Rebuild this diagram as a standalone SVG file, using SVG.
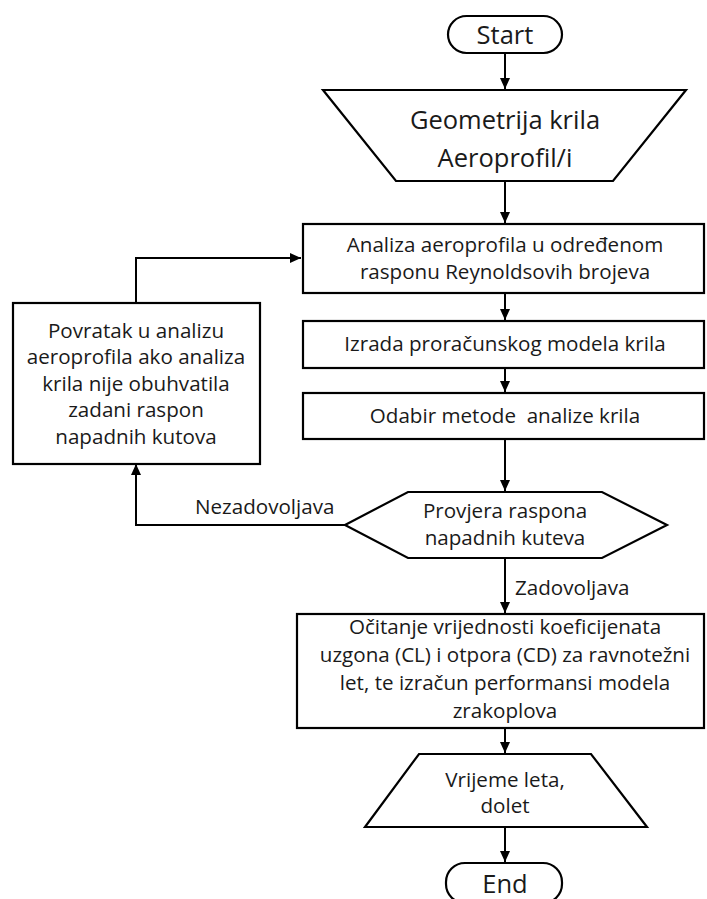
<svg xmlns="http://www.w3.org/2000/svg" width="707" height="899" viewBox="0 0 707 899">
<style>
.s{fill:#fff;stroke:#000;stroke-width:2.2;stroke-linejoin:miter}
.t{font-family:"Open Sans","Liberation Sans",sans-serif;font-size:20.6px;fill:#1a1a1a;text-anchor:middle}
.b{font-size:25.5px}
.l{font-family:"Open Sans","Liberation Sans",sans-serif;font-size:20.6px;fill:#1a1a1a}
.c{fill:none;stroke:#000;stroke-width:2}
</style>
<defs>
<marker id="a" markerUnits="userSpaceOnUse" markerWidth="12" markerHeight="10" refX="11" refY="5" orient="auto">
<path d="M0,0 L11,5 L0,10 z" fill="#000"/>
</marker>
</defs>
<rect width="707" height="899" fill="#fff"/>
<g id="connectors">
<line class="c" x1="505" y1="53" x2="505" y2="89" marker-end="url(#a)"/>
<line class="c" x1="505" y1="181" x2="505" y2="223" marker-end="url(#a)"/>
<line class="c" x1="505" y1="293" x2="505" y2="320" marker-end="url(#a)"/>
<line class="c" x1="505" y1="368" x2="505" y2="392" marker-end="url(#a)"/>
<line class="c" x1="505" y1="439" x2="505" y2="491" marker-end="url(#a)"/>
<line class="c" x1="505" y1="558" x2="505" y2="613" marker-end="url(#a)"/>
<polyline class="c" points="345,525 136,525 136,464" marker-end="url(#a)"/>
<polyline class="c" points="136,303 136,258 301,258" marker-end="url(#a)"/>
<line class="c" x1="505" y1="728" x2="505" y2="753" marker-end="url(#a)"/>
<line class="c" x1="505" y1="827" x2="505" y2="862" marker-end="url(#a)"/>
<text class="l" x="195" y="514">Nezadovoljava</text>
<text class="l" x="515" y="595">Zadovoljava</text>
</g>
<g id="start">
<rect class="s" x="448" y="16" width="114" height="37" rx="18.5"/>
<text class="t b" x="505" y="44">Start</text>
</g>
<g id="input">
<polygon class="s" points="323,90 686,90 613,181 396,181"/>
<text class="t b" x="505" y="129">Geometrija krila</text>
<text class="t b" x="505" y="167">Aeroprofil/i</text>
</g>
<g id="analiza">
<rect class="s" x="303" y="224" width="401" height="69"/>
<text class="t" x="505" y="252">Analiza aeroprofila u određenom</text>
<text class="t" x="505" y="279">rasponu Reynoldsovih brojeva</text>
</g>
<g id="izrada">
<rect class="s" x="303" y="321" width="401" height="47"/>
<text class="t" x="505" y="351">Izrada proračunskog modela krila</text>
</g>
<g id="odabir">
<rect class="s" x="303" y="393" width="401" height="46"/>
<text class="t" x="505" y="423" xml:space="preserve">Odabir metode  analize krila</text>
</g>
<g id="povratak">
<rect class="s" x="13" y="303" width="247" height="161"/>
<text class="t" x="136" y="338">Povratak u analizu</text>
<text class="t" x="136" y="364">aeroprofila ako analiza</text>
<text class="t" x="136" y="391">krila nije obuhvatila</text>
<text class="t" x="136" y="417">zadani raspon</text>
<text class="t" x="136" y="444">napadnih kutova</text>
</g>
<g id="provjera">
<polygon class="s" points="345,525 408,492 602,492 667,525 602,558 408,558"/>
<text class="t" x="505" y="518">Provjera raspona</text>
<text class="t" x="505" y="545">napadnih kuteva</text>
</g>
<g id="ocitanje">
<rect class="s" x="297" y="614" width="407" height="114"/>
<text class="t" x="505" y="634">Očitanje vrijednosti koeficijenata</text>
<text class="t" x="505" y="662">uzgona (CL) i otpora (CD) za ravnotežni</text>
<text class="t" x="505" y="690">let, te izračun performansi modela</text>
<text class="t" x="505" y="718">zrakoplova</text>
</g>
<g id="output">
<polygon class="s" points="419,754 591,754 647,827 365,827"/>
<text class="t" x="505" y="787">Vrijeme leta,</text>
<text class="t" x="505" y="813">dolet</text>
</g>
<g id="end">
<rect class="s" x="446" y="863" width="116" height="40" rx="19"/>
<text class="t b" x="505" y="893">End</text>
</g>
</svg>
